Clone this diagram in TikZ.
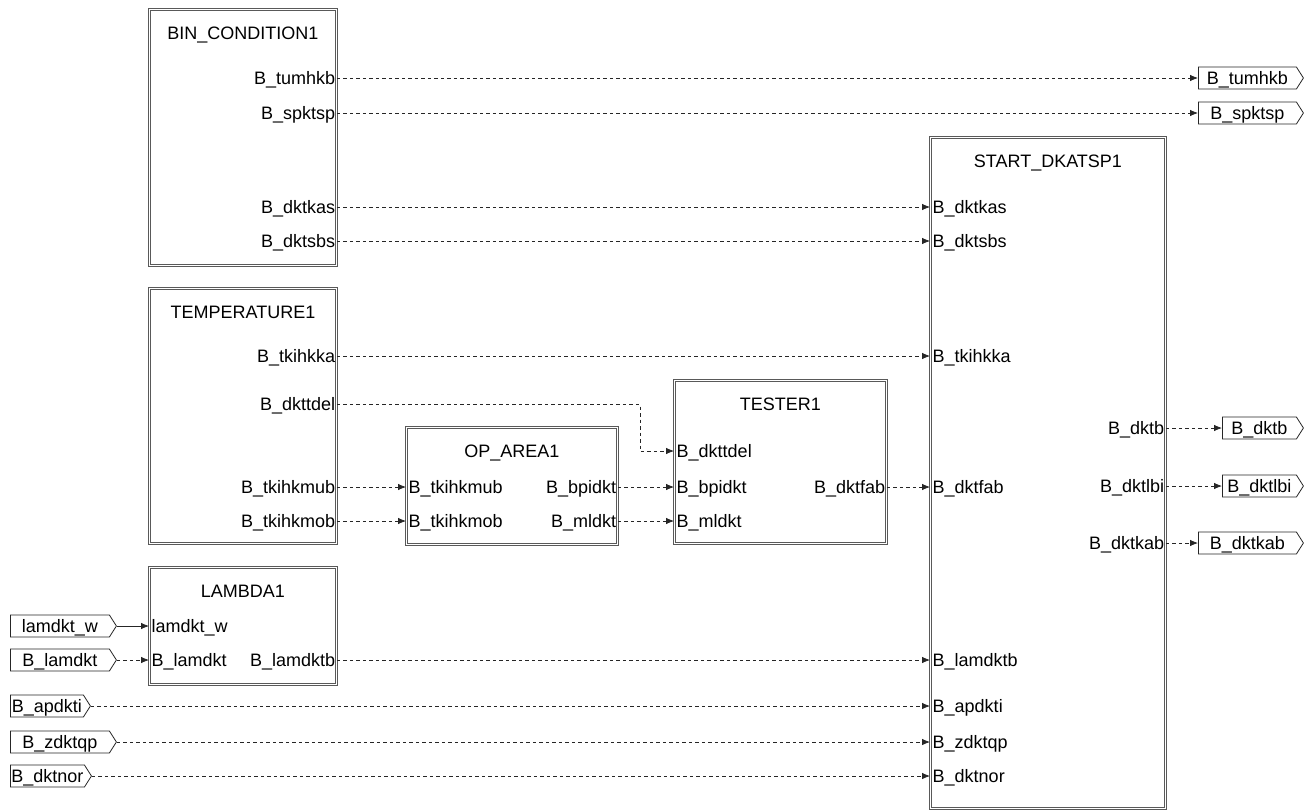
\documentclass[tikz,border=0pt]{standalone}
\usepackage{fontspec}
\setmainfont{Liberation Sans}
\usetikzlibrary{arrows.meta,positioning,shapes.symbols}

\begin{document}
\begin{tikzpicture}[
  x=1pt,y=-1pt,
  font=\fontsize{18}{20}\selectfont,
  block/.style={draw=black!65,double=white,double distance=1.4pt,line width=0.9pt,anchor=north west,inner sep=0},
  btitle/.style={inner sep=0,text height=12.5pt,text depth=0pt},
  inp/.style={anchor=west,inner xsep=2.5pt,inner ysep=0,text height=12.5pt,text depth=0pt},
  outp/.style={anchor=east,inner xsep=1.5pt,inner ysep=0,text height=12.5pt,text depth=0pt},
  flag/.style={draw=black!85,line width=0.8pt,signal,signal to=east,signal pointer angle=115,minimum height=22,inner xsep=1pt,inner ysep=0,text height=12.5pt,text depth=0pt},
  sig/.style={draw=black!85,line width=0.8pt,dash pattern=on 3.5pt off 3pt,-{Latex[length=8pt,width=6.5pt]}},
  wire/.style={draw=black!85,line width=0.8pt,-{Latex[length=8pt,width=6.5pt]}},
]
\useasboundingbox (0,0) rectangle (1309,811);

% blocks
\node[block,minimum width=187,minimum height=256] (bin) at (149,9) {};
\node[btitle,below=18pt of bin.north] (bin_t) {BIN\_CONDITION1};
\node[block,minimum width=187,minimum height=255] (temp) at (149,288) {};
\node[btitle,below=18pt of temp.north] (temp_t) {TEMPERATURE1};
\node[block,minimum width=187,minimum height=117] (lam) at (149,567) {};
\node[btitle,below=18pt of lam.north] (lam_t) {LAMBDA1};
\node[block,minimum width=211,minimum height=117] (op) at (406,427) {};
\node[btitle,below=18pt of op.north] (op_t) {OP\_AREA1};
\node[block,minimum width=212,minimum height=163] (tst) at (674,380) {};
\node[btitle,below=18pt of tst.north] (tst_t) {TESTER1};
\node[block,minimum width=235,minimum height=671] (st) at (930,137) {};
\node[btitle,below=18pt of st.north] (st_t) {START\_DKATSP1};

% ports BIN_CONDITION1
\node[outp] (bin_tumhkb) at (bin.east |- 0,78) {B\_tumhkb};
\node[outp] (bin_spktsp) at (bin.east |- 0,113) {B\_spktsp};
\node[outp] (bin_dktkas) at (bin.east |- 0,207) {B\_dktkas};
\node[outp] (bin_dktsbs) at (bin.east |- 0,241) {B\_dktsbs};

% ports TEMPERATURE1
\node[outp] (temp_tkihkka) at (temp.east |- 0,356) {B\_tkihkka};
\node[outp] (temp_dkttdel) at (temp.east |- 0,404) {B\_dkttdel};
\node[outp] (temp_tkihkmub) at (temp.east |- 0,487) {B\_tkihkmub};
\node[outp] (temp_tkihkmob) at (temp.east |- 0,521) {B\_tkihkmob};

% ports LAMBDA1
\node[inp] (lam_lamdkt_w) at (lam.west |- 0,626) {lamdkt\_w};
\node[inp] (lam_lamdkt) at (lam.west |- 0,660) {B\_lamdkt};
\node[outp] (lam_lamdktb) at (lam.east |- 0,660) {B\_lamdktb};

% ports OP_AREA1
\node[inp] (op_tkihkmub) at (op.west |- 0,487) {B\_tkihkmub};
\node[inp] (op_tkihkmob) at (op.west |- 0,521) {B\_tkihkmob};
\node[outp] (op_bpidkt) at (op.east |- 0,487) {B\_bpidkt};
\node[outp] (op_mldkt) at (op.east |- 0,521) {B\_mldkt};

% ports TESTER1
\node[inp] (tst_dkttdel) at (tst.west |- 0,451) {B\_dkttdel};
\node[inp] (tst_bpidkt) at (tst.west |- 0,487) {B\_bpidkt};
\node[inp] (tst_mldkt) at (tst.west |- 0,521) {B\_mldkt};
\node[outp] (tst_dktfab) at (tst.east |- 0,487) {B\_dktfab};

% ports START_DKATSP1
\node[inp] (st_dktkas) at (st.west |- 0,207) {B\_dktkas};
\node[inp] (st_dktsbs) at (st.west |- 0,241) {B\_dktsbs};
\node[inp] (st_tkihkka) at (st.west |- 0,356) {B\_tkihkka};
\node[inp] (st_dktfab) at (st.west |- 0,487) {B\_dktfab};
\node[inp] (st_lamdktb) at (st.west |- 0,660) {B\_lamdktb};
\node[inp] (st_apdkti) at (st.west |- 0,706) {B\_apdkti};
\node[inp] (st_zdktqp) at (st.west |- 0,742) {B\_zdktqp};
\node[inp] (st_dktnor) at (st.west |- 0,776) {B\_dktnor};
\node[outp] (st_dktb) at (st.east |- 0,428) {B\_dktb};
\node[outp] (st_dktlbi) at (st.east |- 0,486) {B\_dktlbi};
\node[outp] (st_dktkab) at (st.east |- 0,543) {B\_dktkab};

% input flags
\node[flag,anchor=west,minimum width=106] (in_lamdkt_w) at (10,626) {lamdkt\_w};
\node[flag,anchor=west,minimum width=106] (in_lamdkt) at (10,660) {B\_lamdkt};
\node[flag,anchor=west,minimum width=80] (in_apdkti) at (10,706) {B\_apdkti};
\node[flag,anchor=west,minimum width=106] (in_zdktqp) at (10,742) {B\_zdktqp};
\node[flag,anchor=west,minimum width=80] (in_dktnor) at (10,776) {B\_dktnor};

% output flags
\node[flag,anchor=west,minimum width=105] (out_tumhkb) at (1198,78) {B\_tumhkb};
\node[flag,anchor=west,minimum width=105] (out_spktsp) at (1198,113) {B\_spktsp};
\node[flag,anchor=west,minimum width=81] (out_dktb) at (1222,428) {B\_dktb};
\node[flag,anchor=west,minimum width=81] (out_dktlbi) at (1222,486) {B\_dktlbi};
\node[flag,anchor=west,minimum width=105] (out_dktkab) at (1198,543) {B\_dktkab};

% connections
\draw[sig] (bin_tumhkb.east) -- (out_tumhkb.west);
\draw[sig] (bin_spktsp.east) -- (out_spktsp.west);
\draw[sig] (bin_dktkas.east) -- (st_dktkas.west);
\draw[sig] (bin_dktsbs.east) -- (st_dktsbs.west);
\draw[sig] (temp_tkihkka.east) -- (st_tkihkka.west);
\draw[sig] (temp_dkttdel.east) -- ++(303,0) |- (tst_dkttdel.west);
\draw[sig] (temp_tkihkmub.east) -- (op_tkihkmub.west);
\draw[sig] (temp_tkihkmob.east) -- (op_tkihkmob.west);
\draw[sig] (op_bpidkt.east) -- (tst_bpidkt.west);
\draw[sig] (op_mldkt.east) -- (tst_mldkt.west);
\draw[sig] (tst_dktfab.east) -- (st_dktfab.west);
\draw[wire] (in_lamdkt_w.east) -- (lam_lamdkt_w.west);
\draw[sig] (in_lamdkt.east) -- (lam_lamdkt.west);
\draw[sig] (lam_lamdktb.east) -- (st_lamdktb.west);
\draw[sig] (in_apdkti.east) -- (st_apdkti.west);
\draw[sig] (in_zdktqp.east) -- (st_zdktqp.west);
\draw[sig] (in_dktnor.east) -- (st_dktnor.west);
\draw[sig] (st_dktb.east) -- (out_dktb.west);
\draw[sig] (st_dktlbi.east) -- (out_dktlbi.west);
\draw[sig] (st_dktkab.east) -- (out_dktkab.west);

\end{tikzpicture}
\end{document}
